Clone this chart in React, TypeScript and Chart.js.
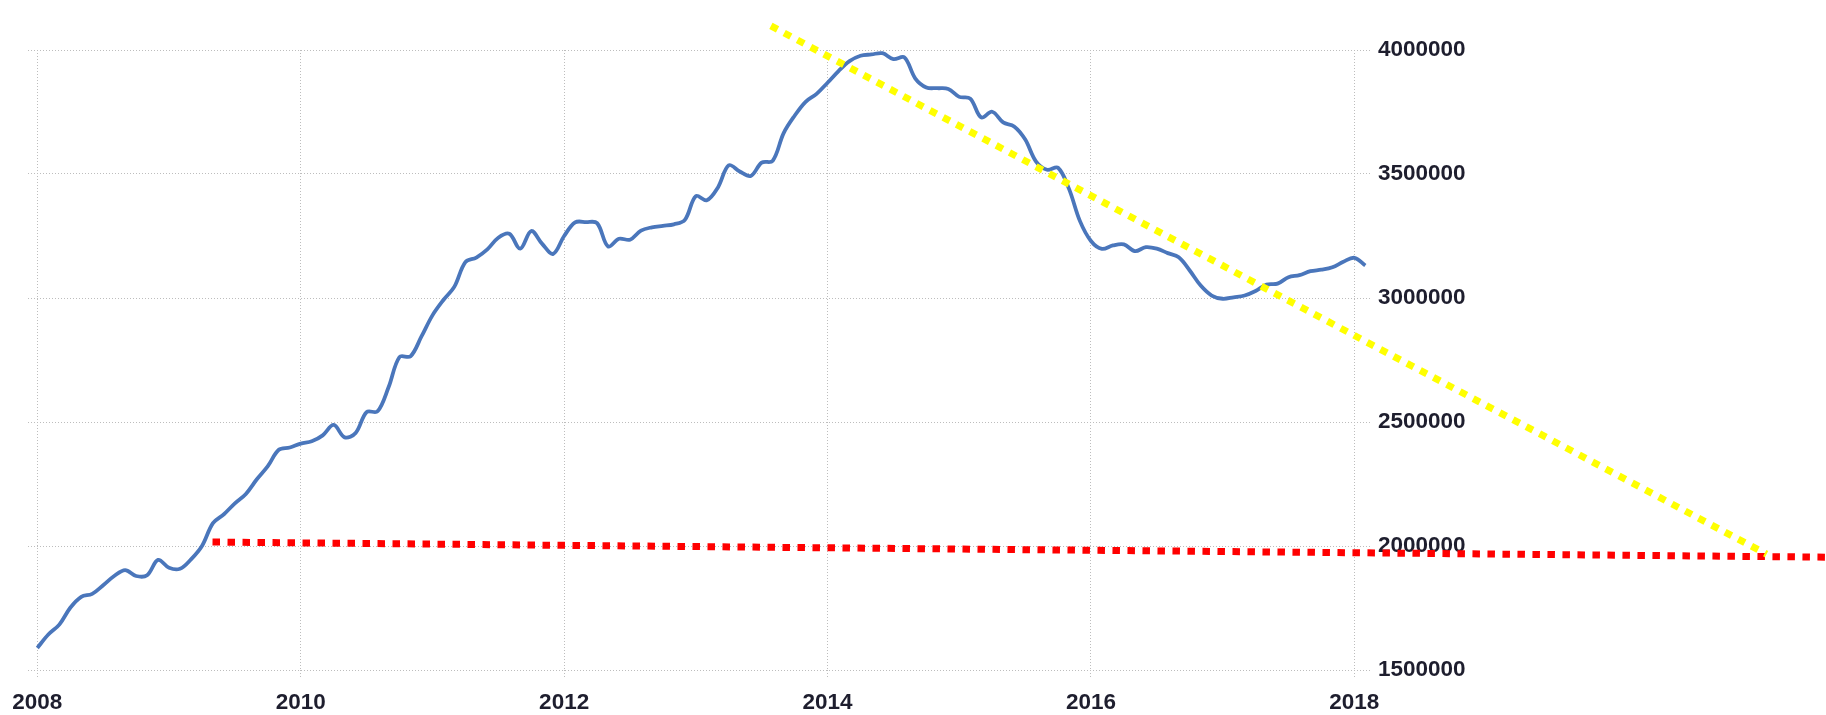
import { useEffect, useRef } from "react";
import { Chart, registerables } from "chart.js";

Chart.register(...registerables);

// Monthly series, starting January 2008
const START_YEAR = 2008;
const monthlyValues = [
  1589000, 1643000, 1683000, 1751000, 1795000, 1807000, 1842000, 1879000, 1903000, 1879000, 1882000, 1944000,
  1912000, 1908000, 1946000, 2000000, 2092000, 2128000, 2172000, 2210000, 2269000, 2322000, 2388000, 2397000,
  2413000, 2422000, 2446000, 2488000, 2438000, 2456000, 2540000, 2543000, 2640000, 2762000, 2765000, 2845000,
  2930000, 2992000, 3046000, 3145000, 3163000, 3196000, 3243000, 3259000, 3199000, 3270000, 3218000, 3178000,
  3250000, 3305000, 3306000, 3302000, 3208000, 3239000, 3235000, 3272000, 3285000, 3291000, 3297000, 3315000,
  3411000, 3394000, 3445000, 3535000, 3510000, 3492000, 3546000, 3553000, 3665000, 3735000, 3791000, 3823000,
  3868000, 3915000, 3955000, 3977000, 3982000, 3987000, 3963000, 3970000, 3885000, 3849000, 3846000, 3843000,
  3811000, 3804000, 3728000, 3751000, 3708000, 3692000, 3640000, 3550000, 3517000, 3525000, 3440000, 3310000,
  3230000, 3198000, 3212000, 3216000, 3189000, 3205000, 3199000, 3181000, 3164000, 3111000, 3050000, 3010000,
  2997000, 3003000, 3010000, 3028000, 3054000, 3058000, 3084000, 3092000, 3108000, 3114000, 3124000, 3146000,
  3162000, 3131000,
];

const xTickYears = [2008, 2010, 2012, 2014, 2016, 2018];
const yTickValues = [1500000, 2000000, 2500000, 3000000, 3500000, 4000000];

// Hand-drawn trend lines (dotted)
const redTrendYears = [2009.33, 2021.58];
const redTrendValues = [2016000, 1955000];
const yellowTrendYears = [2013.57, 2021.13];
const yellowTrendValues = [4097000, 1967000];

const X_MIN = 2007.929;
const X_MAX = 2018.134;
const Y_MIN = 1500000;
const Y_MAX = 4000000;

const FONT = { family: "'Liberation Sans', Arial, sans-serif", size: 22.5, weight: "bold" as const };
const TEXT_COLOR = "#1e1e2e";
const GRID_COLOR = "#bdbdbd";

export default function App() {
  const ref = useRef<HTMLCanvasElement>(null);

  useEffect(() => {
    if (!ref.current) return;
    const chart = new Chart(ref.current, {
      type: "line",
      data: {
        datasets: [
          {
            label: "yellow trend",
            data: yellowTrendYears.map((x, i) => ({ x, y: yellowTrendValues[i] })),
            borderColor: "#ffff00",
            borderWidth: 7,
            borderDash: [7.5, 7.5],
            borderCapStyle: "butt",
            pointRadius: 0,
            tension: 0,
            clip: false,
          },
          {
            label: "red trend",
            data: redTrendYears.map((x, i) => ({ x, y: redTrendValues[i] })),
            borderColor: "#ff0000",
            borderWidth: 7,
            borderDash: [7.5, 7.5],
            borderCapStyle: "butt",
            pointRadius: 0,
            tension: 0,
            clip: false,
          },
          {
            label: "series",
            data: monthlyValues.map((v, i) => ({ x: START_YEAR + i / 12, y: v })),
            borderColor: "#4a76bb",
            borderWidth: 3.8,
            pointRadius: 0,
            tension: 0.35,
          },
        ],
      },
      options: {
        animation: false,
        responsive: true,
        maintainAspectRatio: false,
        layout: { padding: { left: 28, top: 50, right: 354, bottom: 2 } },
        plugins: {
          legend: { display: false },
          tooltip: { enabled: false },
        },
        scales: {
          x: {
            type: "linear",
            min: X_MIN,
            max: X_MAX,
            afterBuildTicks: (scale: any) => {
              scale.ticks = xTickYears.map((v) => ({ value: v }));
            },
            afterFit: (scale: any) => {
              scale.height = 43;
            },
            ticks: {
              callback: (v: any) => String(v),
              font: FONT,
              color: TEXT_COLOR,
              padding: 11,
              maxRotation: 0,
              autoSkip: false,
            },
            grid: {
              color: GRID_COLOR,
              lineWidth: 1,
              tickLength: 8,
              tickColor: GRID_COLOR,
              tickBorderDash: [1, 2],
              borderDash: [1, 2],
            } as any,
            border: { display: false, dash: [1, 2] },
          },
          y: {
            position: "right",
            min: Y_MIN,
            max: Y_MAX,
            afterBuildTicks: (scale: any) => {
              scale.ticks = yTickValues.map((v) => ({ value: v }));
            },
            afterFit: (scale: any) => {
              scale.width = 100;
            },
            ticks: {
              callback: (v: any) => String(v),
              font: FONT,
              color: TEXT_COLOR,
              padding: 6,
              autoSkip: false,
            },
            grid: {
              color: GRID_COLOR,
              lineWidth: 1,
              drawTicks: false,
              borderDash: [1, 2],
            } as any,
            border: { display: false, dash: [1, 2] },
          },
        },
      },
    });
    return () => chart.destroy();
  }, []);

  return (
    <div
      style={{
        position: "fixed",
        left: 0,
        top: 0,
        width: 1826,
        height: 715,
        background: "#ffffff",
      }}
    >
      <canvas ref={ref} style={{ display: "block" }} />
    </div>
  );
}
